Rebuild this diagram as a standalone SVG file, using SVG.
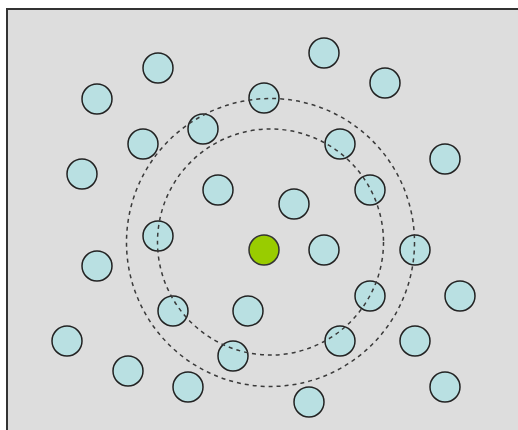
<svg xmlns="http://www.w3.org/2000/svg" width="518" height="430" viewBox="0 0 518 430">
<style>
.n{fill:#b9e0e2;stroke:#222;stroke-width:1.5}
.g{fill:#99cc00;stroke:#333;stroke-width:1.5}
.ring{fill:none;stroke:#3a3a3a;stroke-width:1.5;stroke-dasharray:4 4}
</style>
<rect width="518" height="430" fill="#ffffff"/>
<rect x="7" y="9" width="530" height="440" fill="#dddddd" stroke="#333" stroke-width="2"/>
<g id="nodes">
<g id="n1"><circle class="n" cx="158" cy="68" r="15"/></g>
<g id="n2"><circle class="n" cx="97" cy="99" r="15"/></g>
<g id="n3"><circle class="n" cx="264" cy="98" r="15"/></g>
<g id="n4"><circle class="n" cx="143" cy="144" r="15"/></g>
<g id="n5"><circle class="n" cx="203" cy="129" r="15"/></g>
<g id="n6"><circle class="n" cx="82" cy="174" r="15"/></g>
<g id="n7"><circle class="n" cx="218" cy="190" r="15"/></g>
<g id="n8"><circle class="n" cx="324" cy="53" r="15"/></g>
<g id="n9"><circle class="n" cx="385" cy="83" r="15"/></g>
<g id="n10"><circle class="n" cx="340" cy="144" r="15"/></g>
<g id="n11"><circle class="n" cx="445" cy="159" r="15"/></g>
<g id="n12"><circle class="n" cx="370" cy="190" r="15"/></g>
<g id="n13"><circle class="n" cx="294" cy="204" r="15"/></g>
<g id="n14"><circle class="n" cx="158" cy="236" r="15"/></g>
<g id="n15"><circle class="g" cx="264" cy="250" r="15"/></g>
<g id="n16"><circle class="n" cx="324" cy="250" r="15"/></g>
<g id="n17"><circle class="n" cx="415" cy="250" r="15"/></g>
<g id="n18"><circle class="n" cx="97" cy="266" r="15"/></g>
<g id="n19"><circle class="n" cx="173" cy="311" r="15"/></g>
<g id="n20"><circle class="n" cx="248" cy="311" r="15"/></g>
<g id="n21"><circle class="n" cx="370" cy="296" r="15"/></g>
<g id="n22"><circle class="n" cx="460" cy="296" r="15"/></g>
<g id="n23"><circle class="n" cx="67" cy="341" r="15"/></g>
<g id="n24"><circle class="n" cx="233" cy="356" r="15"/></g>
<g id="n25"><circle class="n" cx="340" cy="341" r="15"/></g>
<g id="n26"><circle class="n" cx="415" cy="341" r="15"/></g>
<g id="n27"><circle class="n" cx="128" cy="371" r="15"/></g>
<g id="n28"><circle class="n" cx="188" cy="387" r="15"/></g>
<g id="n29"><circle class="n" cx="309" cy="402" r="15"/></g>
<g id="n30"><circle class="n" cx="445" cy="387" r="15"/></g>
</g>
<g id="connectors">
<circle class="ring" cx="270.5" cy="242" r="113"/>
<circle class="ring" cx="270.5" cy="242.5" r="144"/>
</g>
</svg>
